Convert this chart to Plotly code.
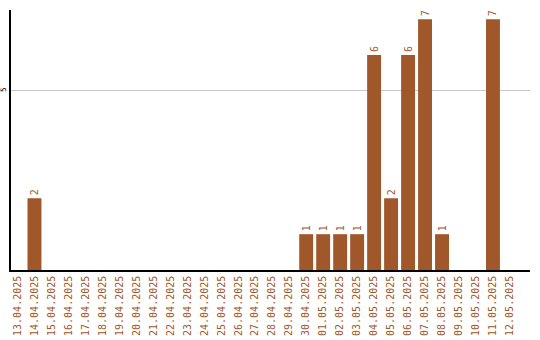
import plotly.graph_objects as go

dates = ["13.04.2025", "14.04.2025", "15.04.2025", "16.04.2025", "17.04.2025",
         "18.04.2025", "19.04.2025", "20.04.2025", "21.04.2025", "22.04.2025",
         "23.04.2025", "24.04.2025", "25.04.2025", "26.04.2025", "27.04.2025",
         "28.04.2025", "29.04.2025", "30.04.2025", "01.05.2025", "02.05.2025",
         "03.05.2025", "04.05.2025", "05.05.2025", "06.05.2025", "07.05.2025",
         "08.05.2025", "09.05.2025", "10.05.2025", "11.05.2025", "12.05.2025"]
values = [0, 2, 0, 0, 0, 0, 0, 0, 0, 0, 0, 0, 0, 0, 0, 0, 0,
          1, 1, 1, 1, 6, 2, 6, 7, 1, 0, 0, 7, 0]

color = "#A0572A"
labels = [str(v) if v > 0 else "" for v in values]

fig = go.Figure(go.Bar(
    x=list(range(len(dates))), y=values, marker_color=color, marker_line_width=0,
    text=labels, textposition="outside", textangle=-90, constraintext="none",
    cliponaxis=False,
    textfont=dict(family="DejaVu Sans Mono", size=10, color=color),
))

fig.update_layout(
    width=540, height=340, margin=dict(l=10.5, r=10, t=10, b=70),
    paper_bgcolor="white", plot_bgcolor="white", bargap=0.18, showlegend=False,
    xaxis=dict(tickmode="array", tickvals=list(range(len(dates))), ticktext=dates,
               tickangle=-90, range=[-0.382, 30.18], automargin=False,
               tickfont=dict(family="DejaVu Sans Mono", size=10, color=color),
               showline=True, linecolor="black", linewidth=1.5, ticks="",
               showgrid=False, zeroline=False),
    yaxis=dict(range=[0, 7.26], tickvals=[5], ticktext=["5"], tickangle=-90,
               automargin=False,
               tickfont=dict(family="DejaVu Sans Mono", size=7.5, color="black"),
               showline=True, linecolor="black", linewidth=1.5, ticks="",
               showgrid=True, gridcolor="#c8c8c8", gridwidth=1, zeroline=False),
)

fig.write_html("out.html")
